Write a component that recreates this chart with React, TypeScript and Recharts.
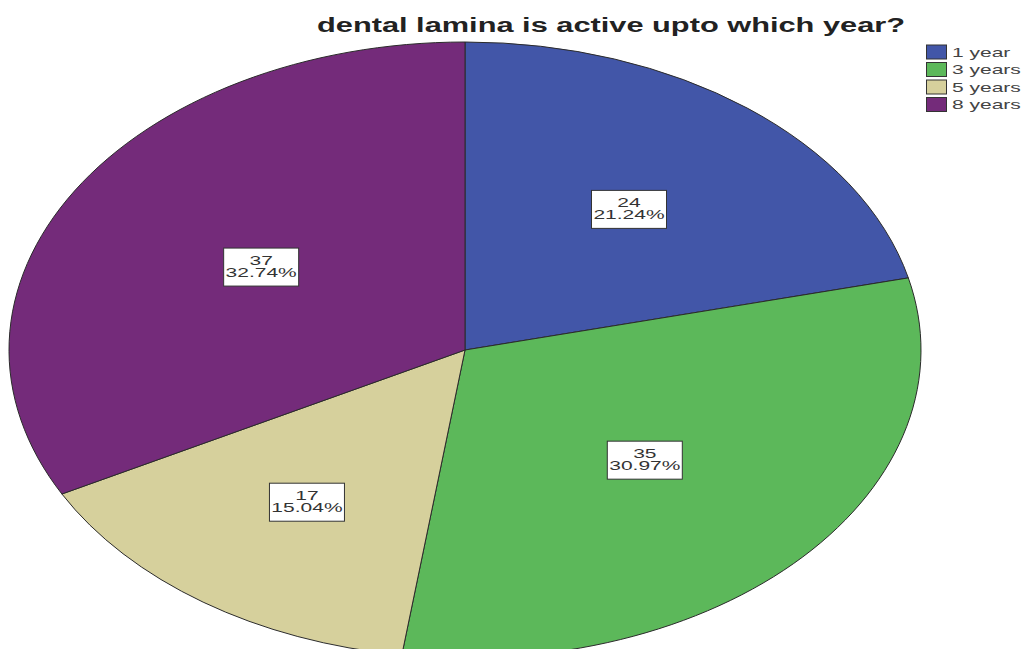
import React from 'react';
import { PieChart, Pie, Cell } from 'recharts';

const categories = ['1 year', '3 years', '5 years', '8 years'];
const counts = [24, 35, 17, 37];
const colors = ['#4256A8', '#5CB85A', '#D6D09C', '#742B7A'];
const title = 'dental lamina is active upto which year?';

const W = 1026;
const H = 649;
const CX = 465;
const CY = 350;
const RY = 308;
const RX = 456;
const TEXT_SX = 1.75;
const FONT = '"Liberation Sans", Arial, sans-serif';

const total = counts.reduce((a, b) => a + b, 0);
const data = categories.map((name, i) => ({ name, value: counts[i], color: colors[i] }));

const RAD = Math.PI / 180;
const ept = (cx: number, cy: number, a: number, f = 1) => [
  cx + f * RX * Math.cos(a * RAD),
  cy - f * RY * Math.sin(a * RAD),
];

const EllipseSector = (p: any) => {
  const { cx, cy, startAngle, endAngle, fill } = p;
  const [x1, y1] = ept(cx, cy, startAngle);
  const [x2, y2] = ept(cx, cy, endAngle);
  const delta = Math.abs(endAngle - startAngle);
  const large = delta > 180 ? 1 : 0;
  const sweep = startAngle > endAngle ? 1 : 0;
  const d = `M${cx},${cy} L${x1},${y1} A${RX},${RY} 0 ${large} ${sweep} ${x2},${y2} Z`;
  return <path d={d} fill={fill} stroke="#2b2b2b" strokeWidth={1} strokeLinejoin="round" />;
};

const renderLabel = (p: any) => {
  const { cx, cy, midAngle, value } = p;
  const frac = value / total;
  const h = (frac * 360 * RAD) / 2;
  const f = 0.94 * (2 / 3) * (Math.sin(h) / h);
  const [x, y] = ept(cx, cy, midAngle, f);
  const pct = (frac * 100).toFixed(2) + '%';
  return (
    <g>
      <rect x={x - 37.5} y={y - 19} width={75} height={38} fill="#ffffff" stroke="#333" strokeWidth={1} />
      <text
        transform={`translate(${x},${y - 2}) scale(${TEXT_SX},1)`}
        textAnchor="middle"
        fontSize={12}
        fontFamily={FONT}
        fill="#333"
      >
        {value}
      </text>
      <text
        transform={`translate(${x},${y + 10}) scale(${TEXT_SX},1)`}
        textAnchor="middle"
        fontSize={12}
        fontFamily={FONT}
        fill="#333"
      >
        {pct}
      </text>
    </g>
  );
};

export default function App() {
  return (
    <div style={{ position: 'absolute', left: 0, top: 0, width: W, height: H, background: '#fff', overflow: 'hidden' }}>
      <PieChart width={W} height={H} margin={{ top: 0, right: 0, bottom: 0, left: 0 }}>
        <Pie
          data={data}
          dataKey="value"
          nameKey="name"
          cx={CX}
          cy={CY}
          outerRadius={RY}
          startAngle={90}
          endAngle={-270}
          isAnimationActive={false}
          labelLine={false}
          label={renderLabel}
          shape={EllipseSector}
          inactiveShape={EllipseSector}
          activeShape={EllipseSector}
        >
          {data.map((d) => (
            <Cell key={d.name} fill={d.color} />
          ))}
        </Pie>
      </PieChart>
      <svg width={W} height={H} style={{ position: 'absolute', left: 0, top: 0, pointerEvents: 'none' }}>
        <text
          x={317}
          y={32}
          textLength={588}
          lengthAdjust="spacingAndGlyphs"
          fontSize={19.5}
          fontWeight="bold"
          fontFamily={FONT}
          fill="#222"
        >
          {title}
        </text>
        {categories.map((c, i) => {
          const yc = 52 + i * 17.5;
          return (
            <g key={c}>
              <rect x={926.5} y={yc - 7} width={20} height={14} fill={colors[i]} stroke="#333" strokeWidth={1} />
              <text
                transform={`translate(952,${yc + 4.5}) scale(${TEXT_SX},1)`}
                fontSize={12}
                fontFamily={FONT}
                fill="#444"
              >
                {c}
              </text>
            </g>
          );
        })}
      </svg>
    </div>
  );
}
